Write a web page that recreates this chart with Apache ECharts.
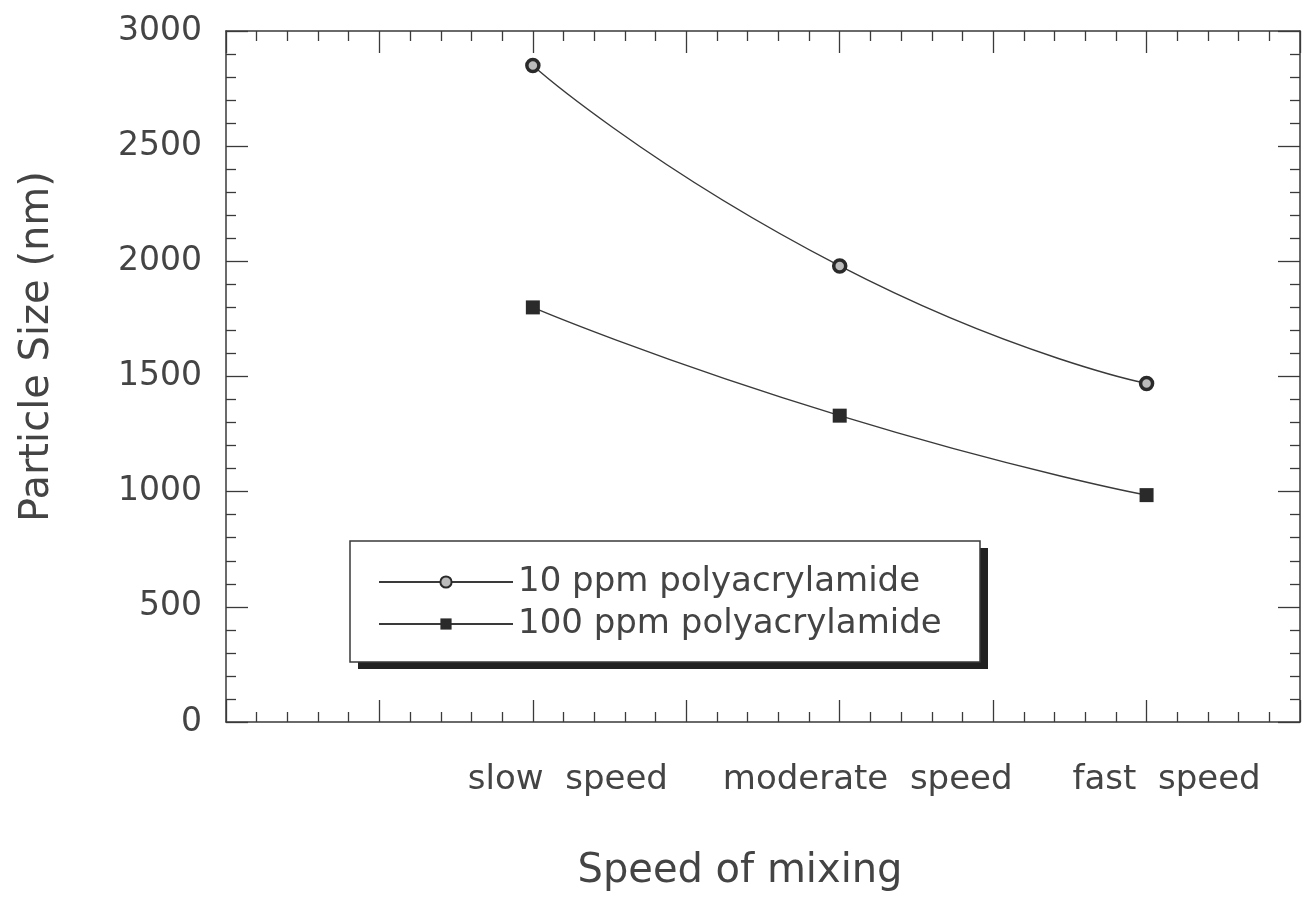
<!DOCTYPE html>
<html>
<head>
<meta charset="utf-8">
<script src="https://cdn.jsdelivr.net/npm/echarts@6/dist/echarts.min.js"></script>
<style>
html,body{margin:0;padding:0;background:#fff;}
#main{width:1305px;height:898px;}
</style>
</head>
<body>
<div id="main"></div>
<script>
// 数据
var speedPos = [2, 4, 6];
var speedNames = ['slow  speed', 'moderate  speed', 'fast  speed'];
var ppm10 = [2850, 1980, 1470];
var ppm100 = [1800, 1330, 985];
var seriesNames = ['10 ppm polyacrylamide', '100 ppm polyacrylamide'];

function pairs(vals) {
    var out = [];
    for (var i = 0; i < vals.length; i++) {
        out.push([speedPos[i], vals[i]]);
    }
    return out;
}

var ink = '#3a3a3a';
var fontFam = 'DejaVu Sans';

function ticks(extra) {
    var base = {
        axisLine: {show: true, onZero: false, lineStyle: {color: ink, width: 1.5}},
        axisTick: {show: true, inside: true, length: 22, lineStyle: {color: ink, width: 1.3}},
        minorTick: {show: true, splitNumber: 5, length: 10, lineStyle: {color: ink, width: 1.3}},
        splitLine: {show: false}
    };
    return echarts.util.merge(extra, base, true);
}

var myChart = echarts.init(document.getElementById('main'));
var option = {
    backgroundColor: '#fff',
    animation: false,
    grid: {left: 226, right: 5, top: 31, bottom: 176},
    // 图例框和阴影
    graphic: [
        {type: 'rect', z: 5, shape: {x: 358, y: 548, width: 630, height: 121}, style: {fill: '#222'}},
        {type: 'rect', z: 6, shape: {x: 350, y: 541, width: 630, height: 121}, style: {fill: '#fff', stroke: ink, lineWidth: 1.5}}
    ],
    legend: {
        z: 10,
        orient: 'vertical',
        left: 350,
        top: 545,
        padding: [20, 20, 20, 28],
        itemGap: 8,
        itemWidth: 134,
        itemHeight: 14,
        textStyle: {fontFamily: fontFam, fontSize: 34, color: '#444', padding: [0, 0, 0, 0]},
        data: seriesNames
    },
    xAxis: [
        ticks({
            type: 'value', min: 0, max: 7, interval: 1,
            position: 'bottom',
            name: 'Speed of mixing',
            nameLocation: 'middle',
            nameGap: 130,
            nameTextStyle: {fontFamily: fontFam, fontSize: 40, color: '#444', padding: [0, 46, 0, 0]},
            axisLabel: {
                show: true,
                margin: 41,
                formatter: function (v) {
                    var i = speedPos.indexOf(v);
                    if (i < 0) return '';
                    return '{s' + i + '|' + speedNames[i] + '}';
                },
                rich: {
                    s0: {fontFamily: fontFam, fontSize: 34, color: '#444', padding: [0, 0, 0, 70]},
                    s1: {fontFamily: fontFam, fontSize: 34, color: '#444', padding: [0, 0, 0, 56]},
                    s2: {fontFamily: fontFam, fontSize: 34, color: '#444', padding: [0, 0, 0, 40]}
                }
            }
        }),
        ticks({
            type: 'value', min: 0, max: 7, interval: 1,
            position: 'top',
            axisLabel: {show: false}
        })
    ],
    yAxis: [
        ticks({
            type: 'value', min: 0, max: 3000, interval: 500,
            position: 'left',
            name: 'Particle Size (nm)',
            nameLocation: 'middle',
            nameGap: 168,
            nameTextStyle: {fontFamily: fontFam, fontSize: 40, color: '#444', padding: [0, 0, 0, 60]},
            axisLabel: {
                show: true, margin: 24, fontFamily: fontFam, fontSize: 33, color: '#444',
                formatter: function (v) { return String(v); }
            }
        }),
        ticks({
            type: 'value', min: 0, max: 3000, interval: 500,
            position: 'right',
            axisLabel: {show: false}
        })
    ],
    series: [
        {
            name: seriesNames[0],
            type: 'line',
            smooth: 0.6,
            data: pairs(ppm10),
            symbol: 'circle',
            symbolSize: 12,
            lineStyle: {color: ink, width: 1.4},
            itemStyle: {color: '#bbb', borderColor: '#2a2a2a', borderWidth: 3.5}
        },
        {
            name: seriesNames[1],
            type: 'line',
            smooth: 0.6,
            data: pairs(ppm100),
            symbol: 'rect',
            symbolSize: 14,
            lineStyle: {color: ink, width: 1.4},
            itemStyle: {color: '#2a2a2a', borderColor: '#2a2a2a', borderWidth: 0}
        }
    ]
};
myChart.setOption(option);
</script>
</body>
</html>
